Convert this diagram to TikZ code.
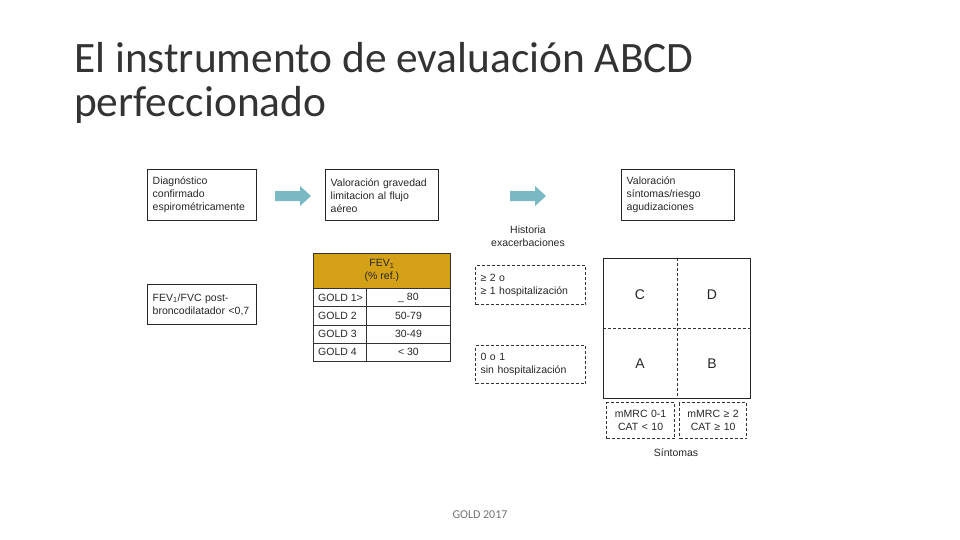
\documentclass[tikz,border=0pt]{standalone}
\usepackage{fontspec}
\setmainfont{Liberation Sans}
\newfontfamily\titlefont{Carlito}
\begin{document}
\begin{tikzpicture}[x=1pt,y=-1pt,
  every node/.style={font=\fontsize{10.5}{13}\selectfont, text=black!85},
  box/.style={draw=black!85, line width=1.4pt, anchor=north west, inner xsep=5pt, inner ysep=0pt, align=left},
  dbox/.style={draw=black!80, line width=1.2pt, dash pattern=on 3pt off 2pt, anchor=north west, inner xsep=5pt, inner ysep=0pt, align=left},
  cell/.style={draw=black!80, line width=0.9pt, anchor=north west, inner sep=0pt},
  tarrow/.style={fill=arrowteal, draw=none},
  plain/.style={inner sep=0pt}
]
\definecolor{arrowteal}{RGB}{122,184,196}
\definecolor{gold}{RGB}{212,160,22}
\useasboundingbox (0,0) rectangle (960,540);

% title
\node[plain, anchor=base west, align=left, font=\titlefont\fontsize{43.4}{44}\selectfont, text=black!80] (title) at (74,117) {El instrumento de evaluación ABCD\\perfeccionado};

% top boxes
\node[box, text width=99pt, minimum height=51pt] (b1) at (147,169) {Diagnóstico\\confirmado\\espirométricamente};
\node[box, text width=103pt, minimum height=51pt] (b2) at (325,169) {Valoración gravedad\\limitacion al flujo\\aéreo};
\node[box, text width=103pt, minimum height=51pt] (b3) at (621,169) {Valoración\\síntomas/riesgo\\agudizaciones};

% arrows
\coordinate (a1) at (275,196);
\coordinate (a2) at (510,196);
\fill[tarrow] (a1) ++(0,-5) -- ++(25,0) -- ++(0,-5) -- ++(11,10) -- ++(-11,10) -- ++(0,-5) -- ++(-25,0) -- cycle;
\fill[tarrow] (a2) ++(0,-5) -- ++(25,0) -- ++(0,-5) -- ++(11,10) -- ++(-11,10) -- ++(0,-5) -- ++(-25,0) -- cycle;

\node[plain, align=center] (hist) at (528,236) {Historia\\exacerbaciones};

% FEV1/FVC box
\node[box, text width=99pt, minimum height=40pt] (b4) at (147,284) {FEV\textsubscript{1}/FVC post-\\broncodilatador <0,7};

% table
\node[cell, fill=gold, minimum width=137pt, minimum height=35pt] (th) at (313,253) {};
\node[plain, align=center] at (th.center) {FEV\textsubscript{1}\\(\% ref.)};
\foreach \i/\g/\v in {0/GOLD 1>/\_ 80, 1/GOLD 2/50-79, 2/GOLD 3/30-49, 3/GOLD 4/< 30}{
  \node[cell, minimum width=53pt, minimum height=18.25pt] (g\i) at (313,288+18.25*\i) {};
  \node[cell, minimum width=84pt, minimum height=18.25pt] (v\i) at (366,288+18.25*\i) {};
  \node[plain, anchor=west] at ([xshift=5pt]g\i.west) {\g};
  \node[plain] at (v\i.center) {\v};
}

% dashed risk boxes
\node[dbox, text width=100pt, minimum height=39pt] (r1) at (475,265) {≥ 2 o\\≥ 1 hospitalización};
\node[dbox, text width=100pt, minimum height=38pt] (r2) at (475,345) {0 o 1\\sin hospitalización};

% grid
\node[draw=black!85, line width=1.2pt, anchor=north west, minimum width=147pt, minimum height=140pt, inner sep=0pt] (grid) at (603,258) {};
\draw[black!80, line width=1.1pt, dash pattern=on 3pt off 2pt] (grid.north) -- (grid.south);
\draw[black!80, line width=1.1pt, dash pattern=on 3pt off 2pt] (grid.west) -- (grid.east);
\node[plain, font=\fontsize{14}{16}\selectfont] (C) at (640,295) {C};
\node[plain, font=\fontsize{14}{16}\selectfont] (D) at (712,295) {D};
\node[plain, font=\fontsize{14}{16}\selectfont] (A) at (640,364) {A};
\node[plain, font=\fontsize{14}{16}\selectfont] (B) at (712,364) {B};

% symptom boxes
\node[dbox, align=center, text width=58pt, minimum height=36pt] (s1) at (606,402) {mMRC 0-1\\CAT < 10};
\node[dbox, align=center, text width=57pt, minimum height=36pt] (s2) at (679,402) {mMRC ≥ 2\\CAT ≥ 10};
\node[plain] (sint) at (676,453) {Síntomas};

% footer
\node[plain, font=\titlefont\fontsize{12}{14}\selectfont, text=black!55] (foot) at (480,515) {GOLD 2017};
\end{tikzpicture}
\end{document}
